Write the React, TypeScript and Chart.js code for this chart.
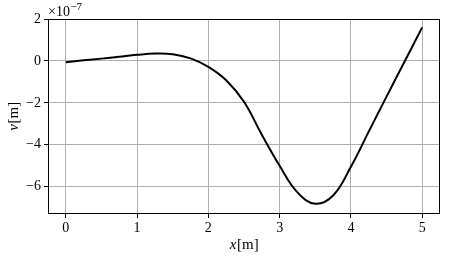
import React, { useEffect, useRef } from "react";
import { Chart, registerables } from "chart.js";

Chart.register(...registerables);

const xValues = [0, 0.25, 0.5, 0.75, 1.0, 1.25, 1.5, 1.75, 2.0, 2.25, 2.5, 2.75, 3.0, 3.25, 3.5, 3.75, 4.0, 4.25, 4.5, 4.75, 5.0];
const vValues = [-0.06, 0.03, 0.11, 0.2, 0.29, 0.35, 0.32, 0.12, -0.28, -0.92, -1.95, -3.52, -5.0, -6.27, -6.81, -6.42, -5.05, -3.37, -1.7, -0.05, 1.6];
const xTicks = [0, 1, 2, 3, 4, 5];
const yTicks = [-6, -4, -2, 0, 2];
const xTitleVar = "x";
const yTitleVar = "v";
const unitText = "[m]";
const offsetBase = "×10";
const offsetExp = "−7";

const FONT = "'Liberation Serif', 'DejaVu Serif', serif";

const framePlugin = {
  id: "framePlugin",
  afterDraw(chart: any) {
    const { ctx, chartArea } = chart;
    const { left, top, right, bottom } = chartArea;
    ctx.save();
    ctx.strokeStyle = "#000";
    ctx.lineWidth = 1;
    ctx.strokeRect(Math.round(left) + 0.5, Math.round(top) + 0.5, Math.round(right - left) - 1, Math.round(bottom - top) - 1);

    // x title
    ctx.fillStyle = "#000";
    ctx.textBaseline = "alphabetic";
    const cx = (left + right) / 2;
    ctx.font = `italic 15px ${FONT}`;
    const w1 = ctx.measureText(xTitleVar).width;
    ctx.font = `15px ${FONT}`;
    const w2 = ctx.measureText(unitText).width;
    const sx = cx - (w1 + w2) / 2;
    ctx.font = `italic 15px ${FONT}`;
    ctx.textAlign = "left";
    ctx.fillText(xTitleVar, sx, 249);
    ctx.font = `15px ${FONT}`;
    ctx.fillText(unitText, sx + w1 + 0.5, 249);

    // y title
    const cy = (top + bottom) / 2;
    ctx.save();
    ctx.translate(18, cy);
    ctx.rotate(-Math.PI / 2);
    ctx.font = `italic 15px ${FONT}`;
    const v1 = ctx.measureText(yTitleVar).width;
    ctx.font = `15px ${FONT}`;
    const v2 = ctx.measureText(unitText).width;
    const sy = -(v1 + v2) / 2;
    ctx.font = `italic 15px ${FONT}`;
    ctx.fillText(yTitleVar, sy, 0);
    ctx.font = `15px ${FONT}`;
    ctx.fillText(unitText, sy + v1 + 0.5, 0);
    ctx.restore();

    // offset text
    ctx.font = `14px ${FONT}`;
    ctx.textAlign = "left";
    const bw = ctx.measureText(offsetBase).width;
    ctx.fillText(offsetBase, left, 16);
    ctx.font = `11px ${FONT}`;
    ctx.fillText(offsetExp, left + bw + 0.5, 10);
    ctx.restore();
  },
};

export default function App() {
  const canvasRef = useRef<HTMLCanvasElement | null>(null);

  useEffect(() => {
    if (!canvasRef.current) return;
    const data = xValues.map((x, i) => ({ x, y: vValues[i] }));
    const chart = new Chart(canvasRef.current, {
      type: "line",
      data: {
        datasets: [
          {
            data,
            borderColor: "#000",
            borderWidth: 2,
            pointRadius: 0,
            tension: 0.4,
            fill: false,
          },
        ],
      },
      options: {
        animation: false,
        responsive: true,
        maintainAspectRatio: false,
        layout: { padding: { top: 19, right: 10, left: 0, bottom: 0 } },
        plugins: { legend: { display: false }, tooltip: { enabled: false } },
        scales: {
          x: {
            type: "linear",
            min: -0.25,
            max: 5.25,
            afterFit: (s: any) => {
              s.height = 43;
            },
            afterBuildTicks: (s: any) => {
              s.ticks = xTicks.map((v) => ({ value: v }));
            },
            ticks: {
              includeBounds: false,
              color: "#000",
              padding: 2,
              font: { family: FONT, size: 14 },
              callback: (v: any) => String(v),
              maxRotation: 0,
            },
            grid: { color: "#b0b0b0", lineWidth: 1, tickColor: "#000", tickLength: 4 },
            border: { display: false },
          },
          y: {
            type: "linear",
            min: -7.3,
            max: 2,
            afterFit: (s: any) => {
              s.width = 48;
            },
            afterBuildTicks: (s: any) => {
              s.ticks = yTicks.map((v) => ({ value: v }));
            },
            ticks: {
              includeBounds: false,
              color: "#000",
              padding: 3,
              font: { family: FONT, size: 14 },
              callback: (v: any) => (v < 0 ? "−" + Math.abs(v) : String(v)),
            },
            grid: { color: "#b0b0b0", lineWidth: 1, tickColor: "#000", tickLength: 4 },
            border: { display: false },
          },
        },
      },
      plugins: [framePlugin],
    });
    return () => chart.destroy();
  }, []);

  return (
    <div style={{ position: "fixed", left: 0, top: 0, width: 450, height: 257, background: "#fff" }}>
      <canvas ref={canvasRef} />
    </div>
  );
}
